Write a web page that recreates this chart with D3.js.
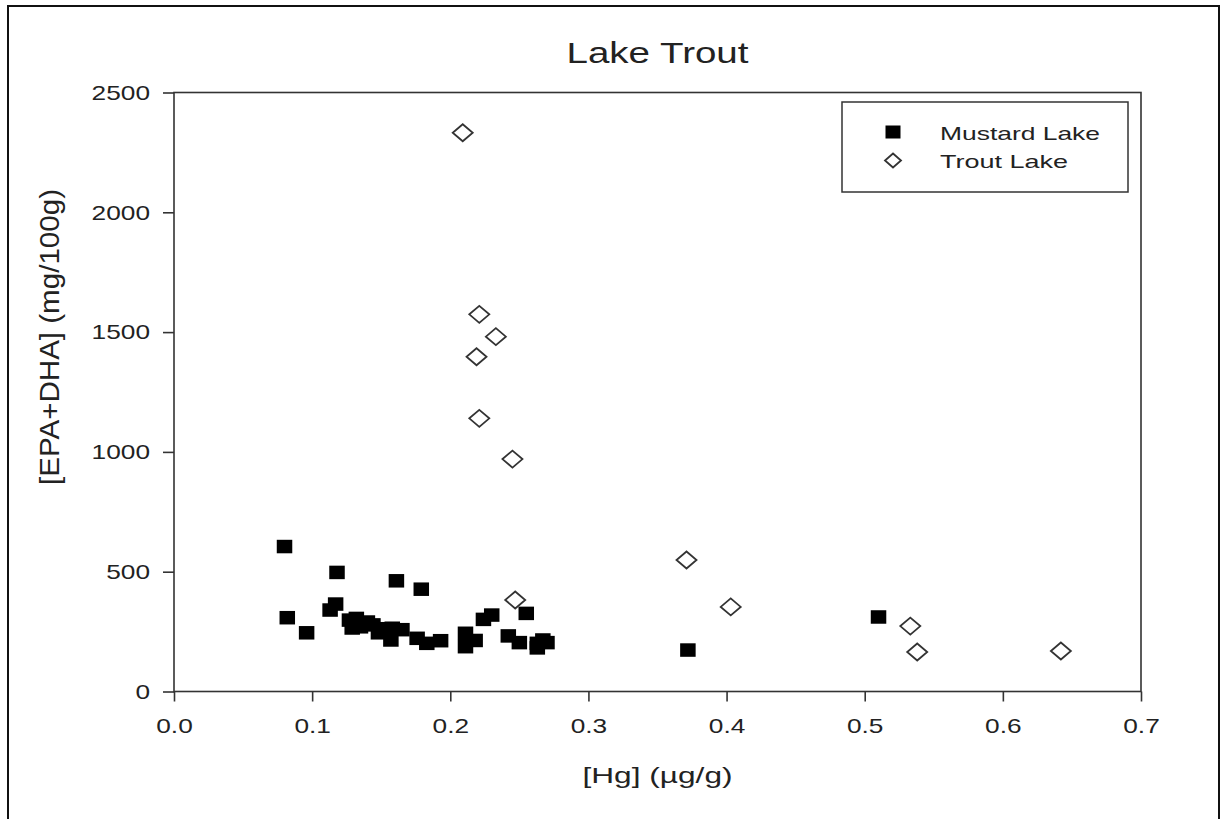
<!DOCTYPE html>
<html>
<head>
<meta charset="utf-8">
<script src="https://cdn.jsdelivr.net/npm/d3@7"></script>
<style>
  body { margin: 0; background: #fff; }
  text { font-family: "Liberation Sans", Arial, sans-serif; fill: #222; }
</style>
</head>
<body>
<div id="chart"></div>
<script>
// data: [Hg] (ug/g), [EPA+DHA] (mg/100g)
let mustard_hg = [0.080, 0.082, 0.096, 0.113, 0.117, 0.118, 0.127, 0.129, 0.132, 0.135,
    0.140, 0.144, 0.148, 0.152, 0.158, 0.157, 0.161, 0.165, 0.176, 0.179,
    0.183, 0.193, 0.211, 0.211, 0.218, 0.224, 0.230, 0.242, 0.250, 0.255,
    0.263, 0.267, 0.270, 0.263, 0.372, 0.510];
let mustard_epa = [605, 308, 245, 340, 365, 497, 298, 265, 305, 270,
    290, 278, 245, 262, 264, 215, 462, 258, 222, 427,
    201, 212, 243, 187, 213, 301, 319, 232, 204, 326,
    201, 215, 204, 182, 173, 311];

let trout_hg = [0.209, 0.221, 0.233, 0.219, 0.221, 0.245, 0.247, 0.371, 0.403, 0.533, 0.538, 0.642];
let trout_epa = [2332, 1574, 1481, 1397, 1140, 970, 382, 549, 353, 273, 165, 169];

let x_ticks = [0, 0.1, 0.2, 0.3, 0.4, 0.5, 0.6, 0.7];
let y_ticks = [0, 500, 1000, 1500, 2000, 2500];
let series_names = ["Mustard Lake", "Trout Lake"];

let width = 1223, height = 819;
let margin = {left: 174, right: 82, top: 92.5, bottom: 127.5};
let stretch = 1.25; // the picture is a bit wider than tall

let svg = d3.select("#chart").append("svg")
    .attr("width", width)
    .attr("height", height);

// outer frame of the figure (bottom edge is cut off)
svg.append("rect")
    .attr("x", 8).attr("y", 6)
    .attr("width", 1211).attr("height", 830)
    .attr("fill", "none")
    .attr("stroke", "#111")
    .attr("stroke-width", 2);

let x = d3.scaleLinear().domain([0, 0.7]).range([margin.left, width - margin.right]);
let y = d3.scaleLinear().domain([0, 2500]).range([height - margin.bottom, margin.top]);

// plot box
svg.append("rect")
    .attr("x", x(0)).attr("y", y(2500))
    .attr("width", x(0.7) - x(0)).attr("height", y(0) - y(2500))
    .attr("fill", "none")
    .attr("stroke", "#333")
    .attr("stroke-width", 1.6);

// axes
let x_axis = svg.append("g")
    .attr("transform", "translate(0," + y(0) + ")")
    .call(d3.axisBottom(x).tickValues(x_ticks).tickFormat(d3.format(".1f"))
        .tickSize(10).tickSizeOuter(0).tickPadding(16.5));

let y_axis = svg.append("g")
    .attr("transform", "translate(" + x(0) + ",0)")
    .call(d3.axisLeft(y).tickValues(y_ticks).tickFormat(d3.format("d"))
        .tickSize(11).tickSizeOuter(0).tickPadding(13));

[x_axis, y_axis].forEach(function (ax) {
    ax.select(".domain").remove();
    ax.selectAll("line").attr("stroke", "#333").attr("stroke-width", 1.6);
    ax.selectAll("text")
        .attr("font-size", 21)
        .style("fill", "#222")
        .attr("lengthAdjust", "spacingAndGlyphs")
        .attr("textLength", function () { return this.getComputedTextLength() * stretch; });
});

// title and axis labels
svg.append("text")
    .attr("x", (x(0) + x(0.7)) / 2).attr("y", 63)
    .attr("text-anchor", "middle")
    .attr("font-size", 29)
    .attr("textLength", 182).attr("lengthAdjust", "spacingAndGlyphs")
    .text("Lake Trout");

svg.append("text")
    .attr("x", (x(0) + x(0.7)) / 2).attr("y", 783)
    .attr("text-anchor", "middle")
    .attr("font-size", 22)
    .attr("textLength", 150).attr("lengthAdjust", "spacingAndGlyphs")
    .text("[Hg] (µg/g)");

svg.append("text")
    .attr("transform", "translate(59,337) scale(" + 1.17 + ",1) rotate(-90)")
    .attr("text-anchor", "middle")
    .attr("font-size", 23)
    .attr("textLength", 296).attr("lengthAdjust", "spacingAndGlyphs")
    .text("[EPA+DHA] (mg/100g)");

// markers
let sq_w = 15.5, sq_h = 13.5;
let dm_w = 10, dm_h = 8.5;
let diamond = function (cx, cy) {
    return "M" + cx + "," + (cy - dm_h) + "L" + (cx + dm_w) + "," + cy +
        "L" + cx + "," + (cy + dm_h) + "L" + (cx - dm_w) + "," + cy + "Z";
};

let mustard = mustard_hg.map(function (d, i) { return {hg: d, epa: mustard_epa[i]}; });
let trout = trout_hg.map(function (d, i) { return {hg: d, epa: trout_epa[i]}; });

svg.append("g").selectAll("rect")
    .data(mustard)
    .enter().append("rect")
    .attr("x", function (d) { return x(d.hg) - sq_w / 2; })
    .attr("y", function (d) { return y(d.epa) - sq_h / 2; })
    .attr("width", sq_w).attr("height", sq_h)
    .attr("fill", "#000");

svg.append("g").selectAll("path")
    .data(trout)
    .enter().append("path")
    .attr("d", function (d) { return diamond(x(d.hg), y(d.epa)); })
    .attr("fill", "#fff")
    .attr("stroke", "#333")
    .attr("stroke-width", 1.8);

// legend
let legend = svg.append("g");
legend.append("rect")
    .attr("x", 842).attr("y", 102)
    .attr("width", 286).attr("height", 90)
    .attr("fill", "#fff")
    .attr("stroke", "#333")
    .attr("stroke-width", 1.5);

legend.append("rect")
    .attr("x", 893 - 7.5).attr("y", 132 - 6.5)
    .attr("width", 15).attr("height", 13)
    .attr("fill", "#000");
legend.append("path")
    .attr("d", "M893,153.5L901,160.5L893,167.5L885,160.5Z")
    .attr("fill", "#fff").attr("stroke", "#333").attr("stroke-width", 1.8);

legend.selectAll(".leg_text")
    .data(series_names)
    .enter().append("text")
    .attr("class", "leg_text")
    .attr("x", 940)
    .attr("y", function (d, i) { return 140 + i * 28; })
    .attr("font-size", 19)
    .attr("lengthAdjust", "spacingAndGlyphs")
    .attr("textLength", function (d, i) { return i === 0 ? 160 : 128; })
    .text(function (d) { return d; });
</script>
</body>
</html>
